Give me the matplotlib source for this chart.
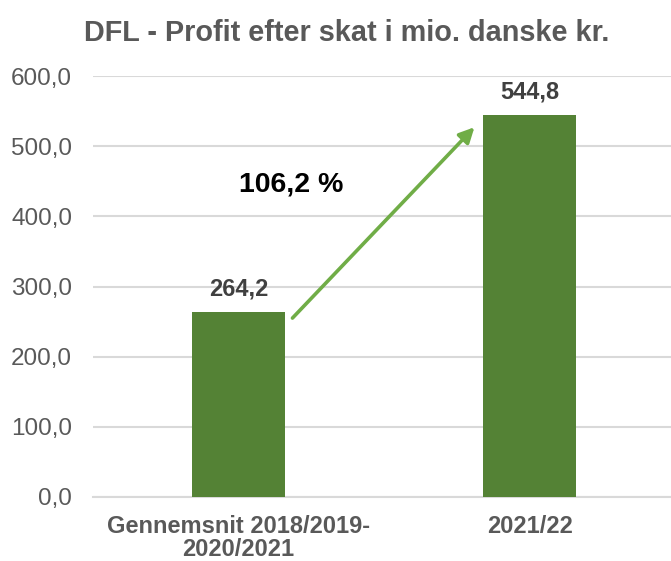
import matplotlib.pyplot as plt

# Data
categories = ["Gennemsnit 2018/2019-\n2020/2021", "2021/22"]
values = [264.2, 544.8]
value_labels = ["264,2", "544,8"]
y_ticks = [0, 100, 200, 300, 400, 500, 600]
y_tick_labels = ["0,0", "100,0", "200,0", "300,0", "400,0", "500,0", "600,0"]
growth_label = "106,2 %"

plt.rcParams["font.family"] = ["Liberation Sans", "DejaVu Sans"]

fig = plt.figure(figsize=(6.71, 5.61), dpi=100)
ax = fig.add_axes([93 / 671, 64 / 561, 578 / 671, 421 / 561])

x = list(range(len(categories)))
ax.bar(x, values, width=0.32, color="#548235", zorder=3)

# Data labels
for xi, v, lab in zip(x, values, value_labels):
    ax.annotate(lab, (xi, v), xytext=(0, 8), textcoords="offset points",
                ha="center", va="bottom", fontsize=17, fontweight="bold",
                color="#404040")

# Growth arrow
ax.annotate("", xy=(0.81, 527), xytext=(0.185, 255),
            arrowprops=dict(arrowstyle="-|>,head_length=0.9,head_width=0.45",
                            color="#70AD47", lw=2.6, shrinkA=0, shrinkB=0),
            zorder=4)
ax.text(0.18, 445, growth_label, ha="center", va="center", fontsize=20.5,
        fontweight="bold", color="black")

# Axes styling
ax.set_xlim(-0.5, 1.485)
ax.set_ylim(0, 600)
ax.set_yticks(y_ticks)
ax.set_yticklabels(y_tick_labels, fontsize=17.5, color="#595959")
ax.set_xticks(x)
ax.set_xticklabels(categories, fontsize=17, fontweight="bold", color="#595959",
                   linespacing=1.0)
ax.tick_params(axis="both", length=0)
ax.tick_params(axis="y", pad=15)
ax.tick_params(axis="x", pad=13)
ax.grid(axis="y", color="#D9D9D9", lw=1.5, zorder=0)
ax.set_axisbelow(True)
for side in ["top", "right", "left"]:
    ax.spines[side].set_visible(False)
ax.spines["bottom"].set_color("#D9D9D9")
ax.spines["bottom"].set_linewidth(1.5)

fig.text(347 / 671, 1 - 33 / 561, "DFL - Profit efter skat i mio. danske kr.",
         ha="center", va="center", fontsize=20.8, fontweight="bold",
         color="#595959")

plt.savefig("out.png", dpi=100)
